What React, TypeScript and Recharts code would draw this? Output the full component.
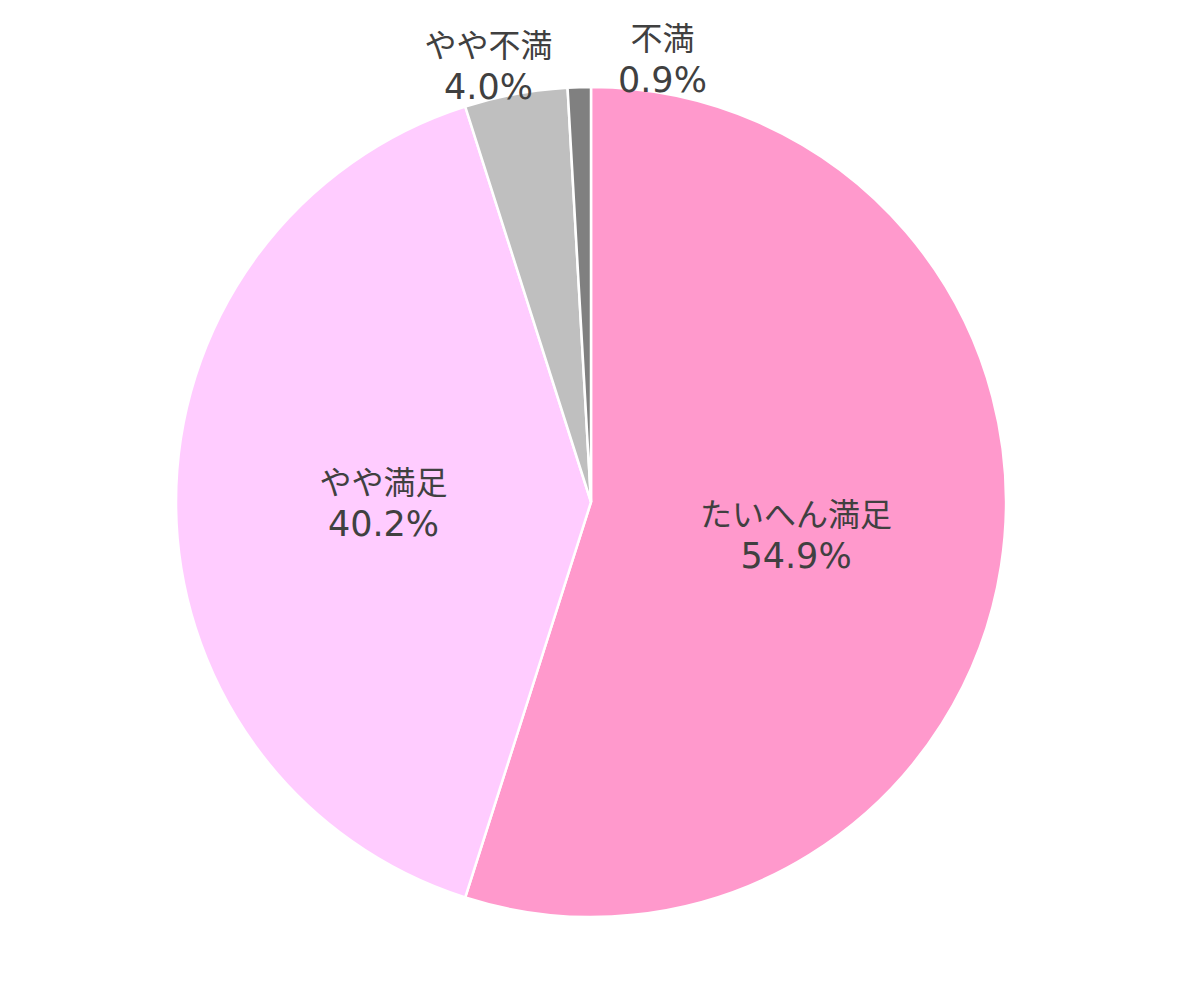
import React from 'react';
import { PieChart, Pie, Cell } from 'recharts';

const names = ['たいへん満足', 'やや満足', 'やや不満', '不満'];
const values = [54.9, 40.2, 4.0, 0.9];
const colors = ['#FF99CC', '#FFCCFF', '#BFBFBF', '#808080'];

// outside labels are nudged sideways like the original layout
const labelNudge: Record<string, number> = { 'やや不満': -22, '不満': 84 };

const data = names.map((name, i) => ({ name, value: values[i] }));

const renderLabel = (props: any) => {
    const { cx, cy, midAngle, outerRadius, name, value } = props;
    const RAD = Math.PI / 180;
    const inside = value > 10;
    const r = inside ? outerRadius * 0.5 : outerRadius + 29;
    const x = cx + r * Math.cos(-midAngle * RAD) + (labelNudge[name] || 0);
    const y = cy + r * Math.sin(-midAngle * RAD);
    return (
        <text
            x={x}
            y={y}
            textAnchor="middle"
            fill="#404040"
            style={{ fontFamily: '"DejaVu Sans", "Noto Sans CJK JP", sans-serif' }}
        >
            <tspan x={x} dy={-8} fontSize={32}>{name}</tspan>
            <tspan x={x} dy={42} fontSize={35}>{value.toFixed(1)}%</tspan>
        </text>
    );
};

const App: React.FC = () => {
    return (
        <div style={{ position: 'absolute', left: 0, top: 0, width: 1182, height: 1005, background: '#fff' }}>
            <PieChart width={1182} height={1005} margin={{ top: 0, right: 0, bottom: 0, left: 0 }}>
                <Pie
                    data={data}
                    dataKey="value"
                    nameKey="name"
                    cx={591}
                    cy={502}
                    outerRadius={415}
                    startAngle={90}
                    endAngle={-270}
                    stroke="#ffffff"
                    strokeWidth={2.5}
                    label={renderLabel}
                    labelLine={false}
                    isAnimationActive={false}
                >
                    {data.map((d, i) => (
                        <Cell key={d.name} fill={colors[i]} />
                    ))}
                </Pie>
            </PieChart>
        </div>
    );
};

export default App;
